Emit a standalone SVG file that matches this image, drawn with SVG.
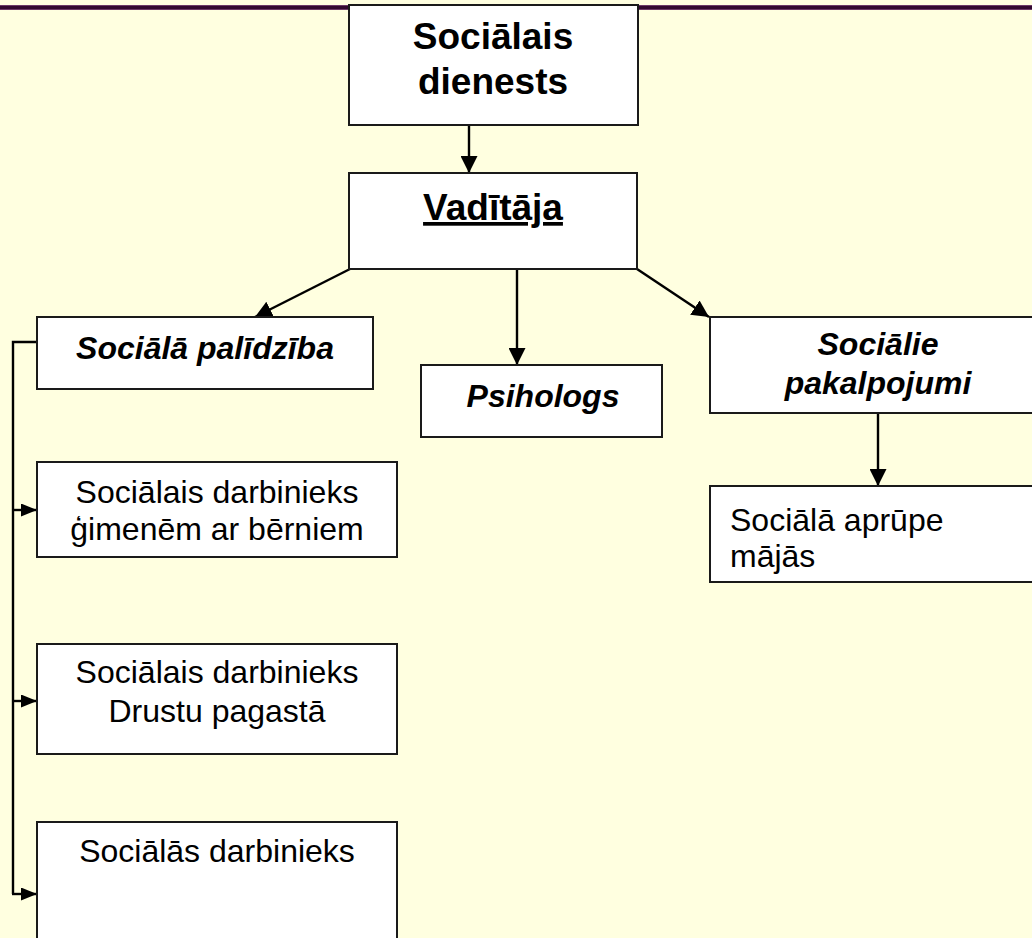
<svg xmlns="http://www.w3.org/2000/svg" width="1032" height="938" viewBox="0 0 1032 938">
  <style>
    .box { fill: #ffffff; stroke: #1a1a1a; stroke-width: 2; }
    .conn { fill: none; stroke: #000000; stroke-width: 2.4; }
    .t { font-family: "Liberation Sans", Arial, sans-serif; fill: #000000; }
    .big { font-size: 37px; font-weight: bold; }
    .bi { font-size: 32px; font-weight: bold; font-style: italic; }
    .reg { font-size: 32px; }
  </style>
  <defs>
    <marker id="ah" markerUnits="userSpaceOnUse" markerWidth="17" markerHeight="17" refX="17" refY="8.5" orient="auto">
      <path d="M0,0 L17,8.5 L0,17 z" fill="#000000"/>
    </marker>
    <marker id="ahs" markerUnits="userSpaceOnUse" markerWidth="16" markerHeight="13" refX="16" refY="6.5" orient="auto">
      <path d="M0,0 L16,6.5 L0,13 z" fill="#000000"/>
    </marker>
  </defs>
  <rect x="0" y="0" width="1032" height="938" fill="#ffffe0"/>
  <rect x="0" y="5" width="1032" height="5" fill="#6b3a66"/>
  <rect x="0" y="6" width="1032" height="3" fill="#330a30"/>

  <g id="connectors">
    <line class="conn" x1="469" y1="125" x2="469" y2="173" marker-end="url(#ah)"/>
    <line class="conn" x1="350" y1="269" x2="255" y2="317" marker-end="url(#ah)"/>
    <line class="conn" x1="517" y1="269" x2="517" y2="365" marker-end="url(#ah)"/>
    <line class="conn" x1="637" y1="269" x2="709" y2="317" marker-end="url(#ah)"/>
    <line class="conn" x1="878" y1="413" x2="878" y2="486" marker-end="url(#ah)"/>
    <polyline class="conn" points="37,342 13,342 13,894"/>
    <line class="conn" x1="13" y1="510" x2="37" y2="510" marker-end="url(#ahs)"/>
    <line class="conn" x1="13" y1="701" x2="37" y2="701" marker-end="url(#ahs)"/>
    <line class="conn" x1="12" y1="894" x2="37" y2="894" marker-end="url(#ahs)"/>
  </g>

  <g id="node-dienests">
    <rect class="box" x="349" y="5" width="289" height="120"/>
    <text class="t big" x="493" y="49" text-anchor="middle">Sociālais</text>
    <text class="t big" x="493" y="94" text-anchor="middle">dienests</text>
  </g>

  <g id="node-vaditaja">
    <rect class="box" x="349" y="173" width="288" height="96"/>
    <text class="t big" x="493" y="220" text-anchor="middle" text-decoration="underline">Vadītāja</text>
  </g>

  <g id="node-palidziba">
    <rect class="box" x="37" y="317" width="336" height="72"/>
    <text class="t bi" x="205" y="359" text-anchor="middle">Sociālā palīdzība</text>
  </g>

  <g id="node-psihologs">
    <rect class="box" x="421" y="365" width="241" height="72"/>
    <text class="t bi" x="543" y="407" text-anchor="middle">Psihologs</text>
  </g>

  <g id="node-pakalpojumi">
    <rect class="box" x="710" y="317" width="340" height="96"/>
    <text class="t bi" x="878" y="355" text-anchor="middle">Sociālie</text>
    <text class="t bi" x="878" y="394" text-anchor="middle">pakalpojumi</text>
  </g>

  <g id="node-gimenem">
    <rect class="box" x="37" y="462" width="360" height="95"/>
    <text class="t reg" x="217" y="503" text-anchor="middle">Sociālais darbinieks</text>
    <text class="t reg" x="217" y="540" text-anchor="middle">ģimenēm ar bērniem</text>
  </g>

  <g id="node-drustu">
    <rect class="box" x="37" y="644" width="360" height="110"/>
    <text class="t reg" x="217" y="683" text-anchor="middle">Sociālais darbinieks</text>
    <text class="t reg" x="217" y="722" text-anchor="middle">Drustu pagastā</text>
  </g>

  <g id="node-sociala-darbinieks">
    <rect class="box" x="37" y="822" width="360" height="140"/>
    <text class="t reg" x="217" y="862" text-anchor="middle">Sociālās darbinieks</text>
  </g>

  <g id="node-aprupe">
    <rect class="box" x="710" y="486" width="340" height="96"/>
    <text class="t reg" x="730" y="531">Sociālā aprūpe</text>
    <text class="t reg" x="730" y="567">mājās</text>
  </g>
</svg>
